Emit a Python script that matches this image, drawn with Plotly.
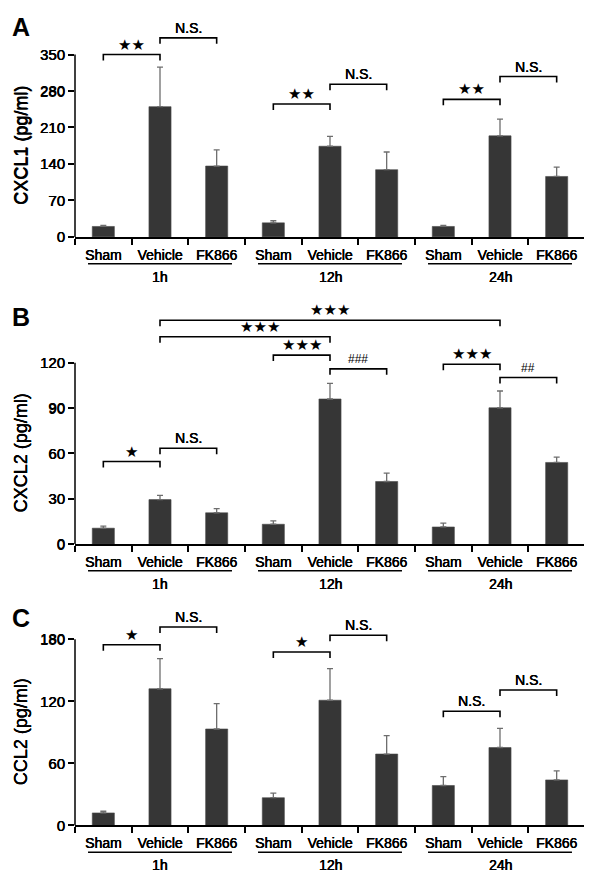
import plotly.graph_objects as go

# ---------------- data ----------------
groups = ["Sham", "Vehicle", "FK866"]
times = ["1h", "12h", "24h"]
cat_labels = groups * 3

cxcl1_mean = [20, 250, 136, 27, 174, 129, 20, 194, 116]
cxcl1_sem = [2, 76, 31, 4, 19, 34, 2, 32, 18]

cxcl2_mean = [10.5, 29.4, 20.7, 13.1, 96.0, 41.4, 11.3, 90.2, 54.0]
cxcl2_sem = [1.3, 2.8, 2.8, 2.3, 10.3, 5.6, 2.6, 11.1, 3.5]

ccl2_mean = [12.1, 132.1, 93.2, 26.8, 121.0, 69.0, 38.6, 75.3, 44.0]
ccl2_sem = [1.6, 29.1, 24.6, 4.5, 30.6, 17.8, 8.6, 18.5, 8.7]

# significance brackets: (from bar, to bar, bracket level, label, label x override)
cxcl1_sig = [(0, 1, 350, "★★", None), (1, 2, 382, "N.S.", None),
             (3, 4, 255, "★★", None), (4, 5, 293, "N.S.", None),
             (6, 7, 264, "★★", None), (7, 8, 308, "N.S.", None)]
cxcl2_sig = [(0, 1, 54.6, "★", None), (1, 2, 63.4, "N.S.", None),
             (1, 7, 148.1, "★★★", None), (1, 4, 137.2, "★★★", 2.76),
             (3, 4, 125.0, "★★★", None), (4, 5, 115.9, "###", None),
             (6, 7, 119.0, "★★★", None), (7, 8, 110.2, "##", None)]
ccl2_sig = [(0, 1, 174.6, "★", None), (1, 2, 191.8, "N.S.", None),
            (3, 4, 167.6, "★", None), (4, 5, 183.8, "N.S.", None),
            (6, 7, 110.4, "N.S.", None), (7, 8, 130.9, "N.S.", None)]

panels = [
    dict(letter="A", title="CXCL1 (pg/ml)", mean=cxcl1_mean, sem=cxcl1_sem, sig=cxcl1_sig,
         ymax=350, dtick=70, y0px=231, ymaxpx=47, toppx=6),
    dict(letter="B", title="CXCL2 (pg/ml)", mean=cxcl2_mean, sem=cxcl2_sem, sig=cxcl2_sig,
         ymax=120, dtick=30, y0px=541, ymaxpx=358, toppx=296),
    dict(letter="C", title="CCL2 (pg/ml)", mean=ccl2_mean, sem=ccl2_sem, sig=ccl2_sig,
         ymax=180, dtick=60, y0px=825, ymaxpx=637, toppx=600),
]

# ---------------- layout constants ----------------
W, H = 592, 874
XL, XR = 67, 577
FONT = "Liberation Sans, Arial, Helvetica, sans-serif"
HEAVY = "0.35px 0px 0px #000, 0px 0.25px 0px #000"
BAR_COLOR = "#363636"

fig = go.Figure()
shapes, annotations = [], []
layout = {}

x_pos = list(range(len(cat_labels)))


def pyp(px):
    return 1 - px / H


def tfont(size, family=FONT):
    return dict(family=family, size=size, color="black", shadow=HEAVY)


for k, p in enumerate(panels):
    sfx = "" if k == 0 else str(k + 1)
    xa, ya = "x" + sfx, "y" + sfx
    scale = (p["y0px"] - p["ymaxpx"]) / p["ymax"]          # px per data unit
    ytop = (p["y0px"] - p["toppx"]) / scale

    fig.add_trace(go.Bar(
        x=x_pos, y=p["mean"], xaxis=xa, yaxis=ya, width=0.39,
        marker=dict(color=BAR_COLOR, line=dict(color="#4a4a4a", width=0.6)),
        error_y=dict(type="data", array=p["sem"], arrayminus=[0] * len(p["sem"]),
                     symmetric=False, color="#6e6e6e", thickness=1.3, width=3),
        showlegend=False, hoverinfo="skip",
    ))

    layout["xaxis" + sfx] = dict(
        domain=[XL / W, XR / W], anchor=ya, range=[-0.5, len(cat_labels) - 0.5],
        showline=True, linecolor="black", linewidth=2,
        tickmode="array", tickvals=x_pos, ticktext=cat_labels, ticks="",
        ticklabelstandoff=4,
        minor=dict(tickmode="array", tickvals=[i - 0.5 for i in range(len(cat_labels) + 1)],
                   ticks="outside", ticklen=6, tickwidth=1.5, tickcolor="black"),
        tickfont=tfont(14),
        showgrid=False, zeroline=False, fixedrange=True,
    )
    layout["yaxis" + sfx] = dict(
        domain=[pyp(p["y0px"]), pyp(p["toppx"])], anchor=xa, range=[0, ytop],
        showline=False, tickmode="array",
        tickvals=list(range(0, p["ymax"] + 1, p["dtick"])),
        ticks="outside", ticklen=6, tickwidth=1.5, tickcolor="black",
        tickfont=tfont(15),
        showgrid=False, zeroline=False, fixedrange=True,
    )

    # y axis line only from 0 to ymax
    shapes.append(dict(type="line", xref="paper", yref=ya, x0=XL / W, x1=XL / W,
                       y0=0, y1=p["ymax"], line=dict(color="black", width=1.5)))

    # y title
    annotations.append(dict(text=p["title"], xref="paper", yref=ya, x=13 / W, y=p["ymax"] / 2,
                            textangle=-90, showarrow=False, xanchor="center", yanchor="middle",
                            font=tfont(18)))
    # panel letter
    annotations.append(dict(text="<b>%s</b>" % p["letter"], xref="paper", yref="paper",
                            x=2 / W, y=pyp(p["toppx"] + (13 if k == 0 else 16)),
                            showarrow=False, xanchor="left", yanchor="middle",
                            font=dict(family=FONT, size=25, color="black")))

    # group underlines + time labels
    for g, t in enumerate(times):
        c = 3 * g + 1
        shapes.append(dict(type="line", xref=xa, yref="paper", x0=c - 1.27, x1=c + 1.27,
                           y0=pyp(p["y0px"] + 27), y1=pyp(p["y0px"] + 27),
                           line=dict(color="black", width=1.5)))
        annotations.append(dict(text=t, xref=xa, yref="paper", x=c, y=pyp(p["y0px"] + 40),
                                showarrow=False, xanchor="center", yanchor="middle",
                                font=tfont(14)))

    # significance brackets
    tick = 6 / scale
    for (i, j, lvl, lab, lx) in p["sig"]:
        shapes.append(dict(type="path", xref=xa, yref=ya,
                           path="M %f %f L %f %f L %f %f L %f %f" % (i, lvl - tick, i, lvl, j, lvl, j, lvl - tick),
                           line=dict(color="black", width=1.6)))
        small = lab.startswith("#")
        star = lab.startswith("★")
        if star:
            f = dict(family="DejaVu Sans", size=15, color="black")
        elif small:
            f = dict(family=FONT, size=12, color="black")
        else:
            f = tfont(14)
        annotations.append(dict(text=lab, xref=xa, yref=ya,
                                x=(i + j) / 2 if lx is None else lx,
                                y=lvl + 10 / scale,
                                showarrow=False, xanchor="center", yanchor="middle",
                                font=f))

fig.update_layout(
    width=W, height=H, margin=dict(l=0, r=0, t=0, b=0),
    paper_bgcolor="white", plot_bgcolor="white",
    shapes=shapes, annotations=annotations, bargap=0.6,
    **layout,
)

fig.write_html("out.html")
